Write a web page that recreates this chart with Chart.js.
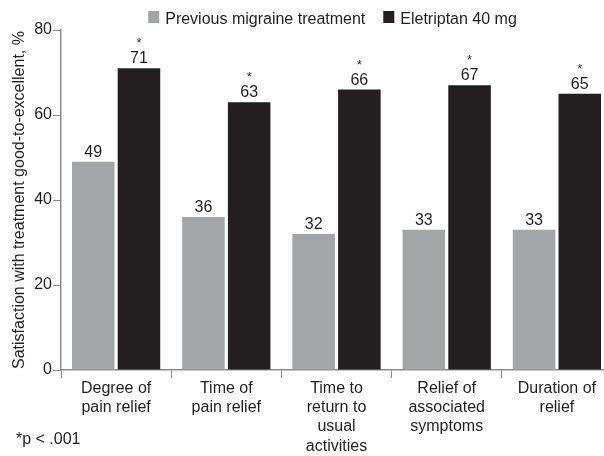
<!DOCTYPE html>
<html>
<head>
<meta charset="utf-8">
<script src="https://cdn.jsdelivr.net/npm/chart.js@4.4.1/dist/chart.umd.min.js"></script>
<style>
  html, body { margin: 0; padding: 0; background: #fff; overflow: hidden; }
</style>
</head>
<body>
<canvas id="chart" width="614" height="456"></canvas>
<script>
// ---- Data
const categories = [
  ["Degree of", "pain relief"],
  ["Time of", "pain relief"],
  ["Time to", "return to", "usual", "activities"],
  ["Relief of", "associated", "symptoms"],
  ["Duration of", "relief"]
];
const previousTreatment = [49, 36, 32, 33, 33];
const eletriptan = [71, 63, 66, 67, 65];
const significant = [true, true, true, true, true]; // * p < .001
const seriesNames = ["Previous migraine treatment", "Eletriptan 40 mg"];
const footnote = "*p < .001";

const GRAY = "#a4a5a7";
const BLACK = "#231f20";
const AXIS = "#8c8c8c";
const FONT = "'Liberation Sans', Arial, Helvetica, sans-serif";

// legend on top, drawn by hand so it can sit close to the plot
const topLegend = {
  id: "topLegend",
  afterDraw(chart) {
    const ctx = chart.ctx;
    const area = chart.chartArea;
    ctx.save();
    ctx.font = "16px " + FONT;
    ctx.textBaseline = "alphabetic";
    ctx.textAlign = "left";
    const box = 11, gap = 6, between = 18;
    let total = 0;
    chart.data.datasets.forEach(function (ds, i) {
      total += box + gap + ctx.measureText(ds.label).width + (i > 0 ? between : 0);
    });
    let x = (area.left + area.right) / 2 - 4 - total / 2;
    chart.data.datasets.forEach(function (ds) {
      ctx.fillStyle = ds.backgroundColor;
      ctx.fillRect(x, 11, box, 12);
      ctx.fillStyle = BLACK;
      ctx.fillText(ds.label, x + box + gap, 23.5);
      x += box + gap + ctx.measureText(ds.label).width + between;
    });
    ctx.restore();
  }
};

// value labels + asterisks above bars, footnote at bottom left
const barLabels = {
  id: "barLabels",
  afterDatasetsDraw(chart) {
    const ctx = chart.ctx;
    ctx.save();
    ctx.fillStyle = BLACK;
    ctx.textAlign = "center";
    ctx.textBaseline = "alphabetic";
    chart.data.datasets.forEach(function (ds, di) {
      const meta = chart.getDatasetMeta(di);
      meta.data.forEach(function (bar, i) {
        ctx.font = "16px " + FONT;
        ctx.fillText(String(ds.data[i]), bar.x, bar.y - 5);
        if (di === 1 && significant[i]) {
          ctx.font = "13px " + FONT;
          ctx.fillText("*", bar.x, bar.y - 21);
        }
      });
    });
    ctx.textAlign = "left";
    ctx.font = "16px " + FONT;
    ctx.fillText(footnote, 16, 444);
    ctx.restore();
  }
};

new Chart(document.getElementById("chart"), {
  type: "bar",
  data: {
    labels: categories,
    datasets: [
      { label: seriesNames[0], data: previousTreatment, backgroundColor: GRAY },
      { label: seriesNames[1], data: eletriptan, backgroundColor: BLACK }
    ]
  },
  options: {
    responsive: false,
    animation: false,
    categoryPercentage: 0.83,
    barPercentage: 0.93,
    layout: { padding: { top: 30, right: 2, left: 0, bottom: 0 } },
    plugins: {
      legend: { display: false },
      tooltip: { enabled: false }
    },
    scales: {
      x: {
        grid: { display: true, drawOnChartArea: false, color: AXIS, tickLength: 8, offset: true },
        border: { color: AXIS, width: 1.5 },
        ticks: { color: BLACK, font: { family: FONT, size: 16, lineHeight: 1.2 }, padding: 1, maxRotation: 0, autoSkip: false },
        afterFit: function (s) { s.height = 86; }
      },
      y: {
        min: 0,
        max: 80,
        grid: { display: true, drawOnChartArea: false, color: AXIS, tickLength: 8 },
        border: { color: AXIS, width: 1.5 },
        ticks: { stepSize: 20, color: BLACK, font: { family: FONT, size: 16 }, padding: 1 },
        title: {
          display: true,
          text: "Satisfaction with treatment good-to-excellent, %",
          color: BLACK,
          font: { family: FONT, size: 16 },
          padding: { top: 10, bottom: 0 }
        },
        afterFit: function (s) { s.width = 61; }
      }
    }
  },
  plugins: [barLabels, topLegend]
});
</script>
</body>
</html>
